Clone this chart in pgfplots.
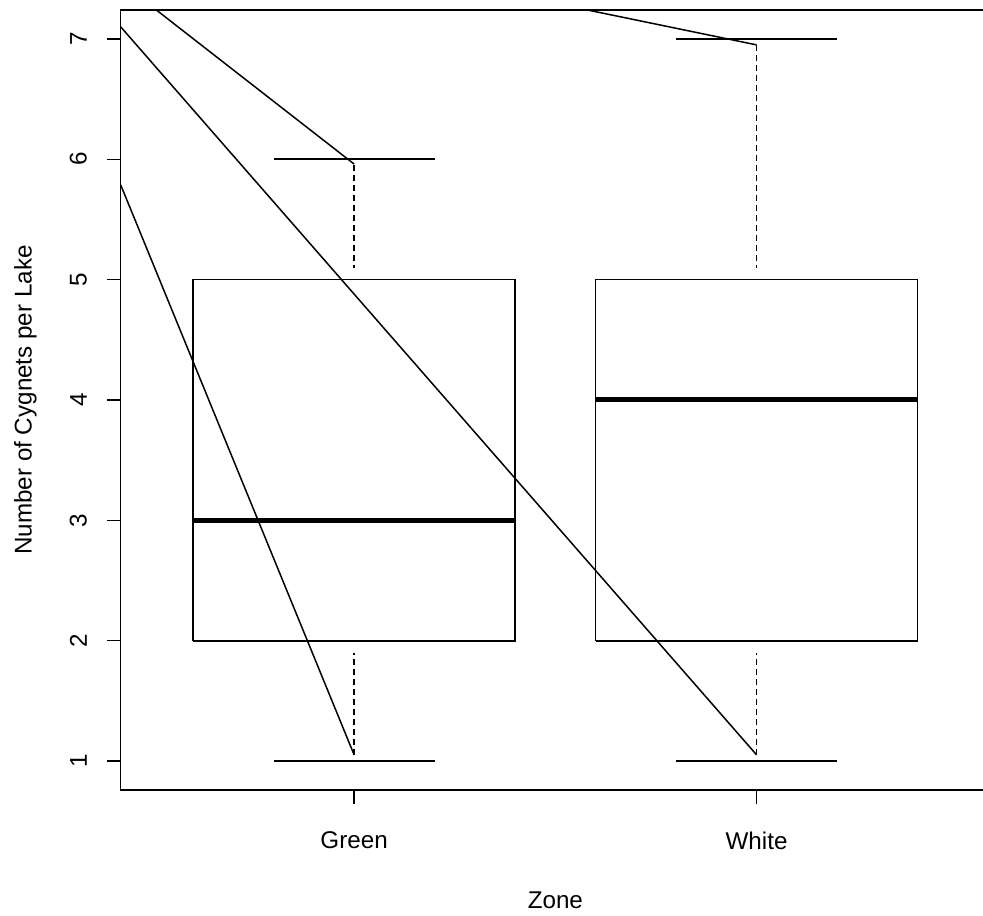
\documentclass[border=0pt]{standalone}
\usepackage{fontspec}
\setmainfont{Liberation Sans}
\usepackage{pgfplots}
\pgfplotsset{compat=1.18}
\begin{document}
\fontsize{12.1}{14.5}\selectfont
\begin{tikzpicture}
\begin{axis}[
  at={(0,0)}, anchor=south west,
  scale only axis, width=434.65pt, height=390pt,
  xmin=0.42, xmax=2.58, ymin=0.76, ymax=7.24,
  axis line style={line width=0.75pt, black},
  xtick={1,2}, xticklabels={Green,White},
  ytick={1,2,3,4,5,6,7},
  xtick pos=left, ytick pos=left,
  tick align=outside, major tick length=7pt,
  tick style={line width=0.75pt, black},
  /pgf/number format/assume math mode=true,
  ticklabel style={font=\fontsize{12.1}{14.5}\selectfont},
  xticklabel style={anchor=north, inner sep=0pt},
  xticklabel shift=13.6pt,
  yticklabel style={rotate=90, anchor=south, inner sep=0pt},
  yticklabel shift=9.7pt,
  xlabel={Zone},
  xlabel style={at={(axis description cs:0.5,-0.15128)}, anchor=base, inner sep=0pt, font=\fontsize{12.1}{14.5}\selectfont},
  ylabel={Number of Cygnets per Lake},
  ylabel style={at={(axis description cs:-0.10238,0.5)}, anchor=base, rotate=0, inner sep=0pt, font=\fontsize{12.1}{14.5}\selectfont},
]
% boxes
\addplot[black, line width=0.8pt] coordinates {(0.6,2) (1.4,2) (1.4,5) (0.6,5) (0.6,2)};
\addplot[black, line width=0.8pt] coordinates {(1.6,2) (2.4,2) (2.4,5) (1.6,5) (1.6,2)};
% medians
\addplot[black, line width=2.5pt] coordinates {(0.6,3) (1.4,3)};
\addplot[black, line width=2.5pt] coordinates {(1.6,4) (2.4,4)};
% caps
\addplot[black, line width=0.8pt] coordinates {(0.8,1) (1.2,1)};
\addplot[black, line width=0.8pt] coordinates {(0.8,6) (1.2,6)};
\addplot[black, line width=0.8pt] coordinates {(1.8,1) (2.2,1)};
\addplot[black, line width=0.8pt] coordinates {(1.8,7) (2.2,7)};
% whiskers
\addplot[black, line width=0.8pt, dash pattern=on 3pt off 2pt] coordinates {(1,1.05) (1,1.9)};
\addplot[black, line width=0.8pt, dash pattern=on 3pt off 2pt] coordinates {(1,5.95) (1,5.1)};
\addplot[black, line width=0.8pt, dash pattern=on 3pt off 2pt] coordinates {(2,1.05) (2,1.9)};
\addplot[black, line width=0.8pt, dash pattern=on 3pt off 2pt] coordinates {(2,6.95) (2,5.1)};
% diagonal lines
\addplot[black, line width=0.75pt] coordinates {(0.42,5.787) (1,1.052)};
\addplot[black, line width=0.75pt] coordinates {(0.42,7.10) (2,1.052)};
\addplot[black, line width=0.75pt] coordinates {(0.507,7.244) (1,5.96)};
\addplot[black, line width=0.75pt] coordinates {(1.574,7.244) (2,6.95)};
\end{axis}
\pgfresetboundingbox
\useasboundingbox (-60.35pt,-62.5pt) rectangle (431.15pt,395pt);
\end{tikzpicture}
\end{document}
